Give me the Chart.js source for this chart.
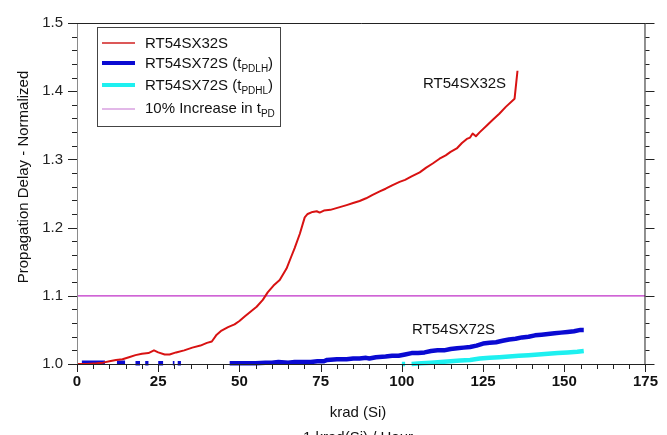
<!DOCTYPE html>
<html>
<head>
<meta charset="utf-8">
<script src="https://cdn.jsdelivr.net/npm/chart.js@4/dist/chart.umd.min.js"></script>
<style>
html,body{margin:0;padding:0;background:#fff;}
#wrap{width:667px;height:435px;position:relative;}
</style>
</head>
<body>
<div id="wrap"><canvas id="c" width="667" height="435"></canvas></div>
<script>
// ---- data ----
const xTickLabels = [0, 25, 50, 75, 100, 125, 150, 175];
const yTickLabels = [1.0, 1.1, 1.2, 1.3, 1.4, 1.5];

const sx32X = [0,3,6,8,10,12,14,16,18,20,22,23.7,25,27,28.5,30.5,33,35.5,38,40,41.5,43,44.5,46.5,48.5,50,51.7,53.5,55.3,57.2,58.7,60.5,62.4,64.5,66,67,68.6,70.1,71,72.5,73.8,74.7,76,78,80.9,83,85,87,89,91,93.2,95,97,99.3,101,103,105.5,107.5,109.5,111.6,113.5,115,116.9,118.5,120,121,121.8,122.8,124,126,128,130,132,134.7,135.6];
const sx32Y = [1.000,1.000,1.001,1.002,1.004,1.006,1.007,1.010,1.013,1.015,1.016,1.020,1.017,1.014,1.014,1.017,1.020,1.024,1.027,1.031,1.033,1.043,1.049,1.054,1.058,1.063,1.070,1.077,1.084,1.094,1.105,1.115,1.123,1.140,1.158,1.170,1.191,1.215,1.220,1.223,1.224,1.222,1.225,1.226,1.230,1.233,1.236,1.239,1.243,1.248,1.253,1.257,1.262,1.267,1.270,1.275,1.281,1.288,1.294,1.301,1.306,1.311,1.316,1.324,1.330,1.332,1.338,1.334,1.340,1.349,1.358,1.367,1.377,1.389,1.430];

const sx72lhX = [1.5,3,5,7,8.6,null,12.3,13.5,14.8,null,18,19.4,null,21,22,null,25,26.5,null,29.5,30,null,31,32,null,47,50,55,58,60,62,65,67,70,72,74,76,77,80,83,85,87,89,90,92,95,97,99,101,103,105,107,109,111,113,115,117,119,121,123,125,127,129,131,133,135,137,139,141,143,145,147,149,151,153,155,156];
const sx72lhY = [1.002,1.002,1.002,1.002,1.002,null,1.002,1.002,1.002,null,1.001,1.001,null,1.001,1.001,null,1.001,1.001,null,1.001,1.001,null,1.001,1.001,null,1.001,1.001,1.001,1.002,1.002,1.003,1.002,1.003,1.003,1.003,1.004,1.004,1.006,1.007,1.007,1.008,1.008,1.009,1.008,1.010,1.011,1.012,1.012,1.014,1.016,1.016,1.017,1.019,1.020,1.020,1.022,1.023,1.024,1.025,1.027,1.030,1.031,1.032,1.034,1.036,1.037,1.039,1.040,1.042,1.043,1.044,1.045,1.046,1.047,1.048,1.050,1.050];

const sx72hlX = [100,101,null,103,106,109,112,115,118,121,124,127,130,133,136,139,142,145,148,151,154,156];
const sx72hlY = [1.000,1.000,null,1.000,1.001,1.002,1.003,1.004,1.005,1.006,1.008,1.009,1.010,1.011,1.012,1.013,1.014,1.015,1.016,1.017,1.018,1.019];

const limitX = [0, 175];
const limitY = [1.1, 1.1];

const seriesNames = ['RT54SX32S', 'RT54SX72S (t', 'RT54SX72S (t', '10% Increase in t'];
const seriesSubs = ['', 'PDLH', 'PDHL', 'PD'];
const seriesTails = ['', ')', ')', ''];
const annot32 = 'RT54SX32S';
const annot72 = 'RT54SX72S';
const xTitle1 = 'krad (Si)';
const xTitle2 = '1 krad(Si) / Hour';
const yTitle = 'Propagation Delay - Normalized';

// ---- build ----
function pts(xs, ys){ return xs.map((x,i)=> x===null ? {x:NaN,y:null} : {x:x, y:ys[i]}); }
const colors = ['#d81212', '#0a0ad2', '#1ef0f0', '#c030c8'];
const legendColors = ['#d02020', '#0a0ad2', '#1ef0f0', '#d8a0e0'];
const widths = [2, 4.5, 4.5, 1.2];
const legendWidths = [1.5, 4, 4, 1.5];

const FONT = '"Liberation Sans", Arial, sans-serif';
Chart.defaults.font.family = FONT;

const decor = {
  id: 'decor',
  afterDraw(chart){
    const ctx = chart.ctx, xs = chart.scales.x, ys = chart.scales.y, a = chart.chartArea;
    ctx.save();
    // axis lines
    ctx.lineWidth = 1;
    ctx.strokeStyle = '#8a8a8a';
    ctx.beginPath(); ctx.moveTo(a.left+0.5, a.top); ctx.lineTo(a.left+0.5, a.bottom+8); ctx.stroke();
    ctx.strokeStyle = '#222';
    ctx.beginPath();
    ctx.moveTo(a.left, a.top+0.5); ctx.lineTo(a.right, a.top+0.5);
    ctx.moveTo(a.right-0.5, a.top); ctx.lineTo(a.right-0.5, a.bottom);
    ctx.moveTo(a.left, a.bottom+0.5); ctx.lineTo(a.right, a.bottom+0.5);
    ctx.stroke();
    // x ticks
    ctx.beginPath();
    for (let v = 0; v <= 175; v += 5){
      const p = Math.round(xs.getPixelForValue(v)) + 0.5;
      const len = (v % 25 === 0) ? 8 : 5;
      ctx.moveTo(p, a.bottom); ctx.lineTo(p, a.bottom + len);
    }
    ctx.stroke();
    // y ticks left and right
    ctx.beginPath();
    for (let i = 0; i <= 25; i++){
      const v = 1 + i*0.02;
      const p = Math.round(ys.getPixelForValue(v)) + 0.5;
      const major = (i % 5 === 0);
      ctx.moveTo(a.left - (major ? 9 : 5), p); ctx.lineTo(a.left, p);
      ctx.moveTo(a.right, p); ctx.lineTo(a.right + (major ? 9 : 4), p);
    }
    ctx.stroke();

    // titles
    ctx.fillStyle = '#111';
    ctx.font = '15px ' + FONT;
    ctx.textAlign = 'center'; ctx.textBaseline = 'middle';
    ctx.fillText(xTitle1, 358, 413);
    ctx.fillText(xTitle2, 358, 438);
    ctx.save();
    ctx.translate(24, 177); ctx.rotate(-Math.PI/2);
    ctx.fillText(yTitle, 0, 0);
    ctx.restore();

    // annotations
    ctx.textAlign = 'left'; ctx.textBaseline = 'alphabetic';
    ctx.fillText(annot32, 423, 88);
    ctx.fillText(annot72, 412, 334);

    // legend
    ctx.fillStyle = '#fff';
    ctx.fillRect(97, 27, 183, 99);
    ctx.strokeStyle = '#444'; ctx.lineWidth = 1;
    ctx.strokeRect(97.5, 27.5, 183, 99);
    const lineY = [43, 63, 85, 109];
    const baseY = [48, 68, 90, 113];
    for (let i = 0; i < 4; i++){
      ctx.strokeStyle = legendColors[i]; ctx.lineWidth = legendWidths[i];
      ctx.beginPath(); ctx.moveTo(102, lineY[i]); ctx.lineTo(135, lineY[i]); ctx.stroke();
      ctx.fillStyle = '#111';
      ctx.font = '15px ' + FONT;
      let x = 145;
      ctx.fillText(seriesNames[i], x, baseY[i]);
      x += ctx.measureText(seriesNames[i]).width;
      if (seriesSubs[i]){
        ctx.font = '10px ' + FONT;
        ctx.fillText(seriesSubs[i], x, baseY[i] + 4);
        x += ctx.measureText(seriesSubs[i]).width;
        ctx.font = '15px ' + FONT;
        ctx.fillText(seriesTails[i], x, baseY[i]);
      }
    }
    ctx.restore();
  }
};

new Chart(document.getElementById('c'), {
  type: 'line',
  data: {
    datasets: [
      {label: 'limit', data: pts(limitX, limitY), borderColor: colors[3], borderWidth: widths[3], order: 4},
      {label: 'hl', data: pts(sx72hlX, sx72hlY), borderColor: colors[2], borderWidth: widths[2], order: 3, clip: 8},
      {label: 'lh', data: pts(sx72lhX, sx72lhY), borderColor: colors[1], borderWidth: widths[1], order: 2, clip: 8},
      {label: '32', data: pts(sx32X, sx32Y), borderColor: colors[0], borderWidth: widths[0], order: 1, clip: 8}
    ]
  },
  options: {
    responsive: false,
    animation: false,
    spanGaps: false,
    elements: { point: { radius: 0 }, line: { tension: 0, borderJoinStyle: 'round', borderCapStyle: 'butt' } },
    layout: { padding: { top: 14, right: 21, left: 0, bottom: 0 } },
    plugins: { legend: { display: false }, tooltip: { enabled: false } },
    scales: {
      x: {
        type: 'linear', min: 0, max: 175,
        afterFit: s => { s.height = 71; },
        afterBuildTicks: s => { s.ticks = xTickLabels.map(v => ({value: v})); },
        grid: { display: false, drawTicks: false },
        border: { display: false },
        ticks: { padding: 9, color: '#111', font: { size: 15, weight: 'bold' }, maxRotation: 0, autoSkip: false }
      },
      y: {
        type: 'linear', min: 1.0, max: 1.5,
        afterFit: s => { s.width = 77; },
        afterBuildTicks: s => { s.ticks = yTickLabels.map(v => ({value: v})); },
        grid: { display: false, drawTicks: false },
        border: { display: false },
        ticks: { padding: 14, color: '#222', font: { size: 15 }, callback: v => Number(v).toFixed(1) }
      }
    }
  },
  plugins: [decor]
});
</script>
</body>
</html>
